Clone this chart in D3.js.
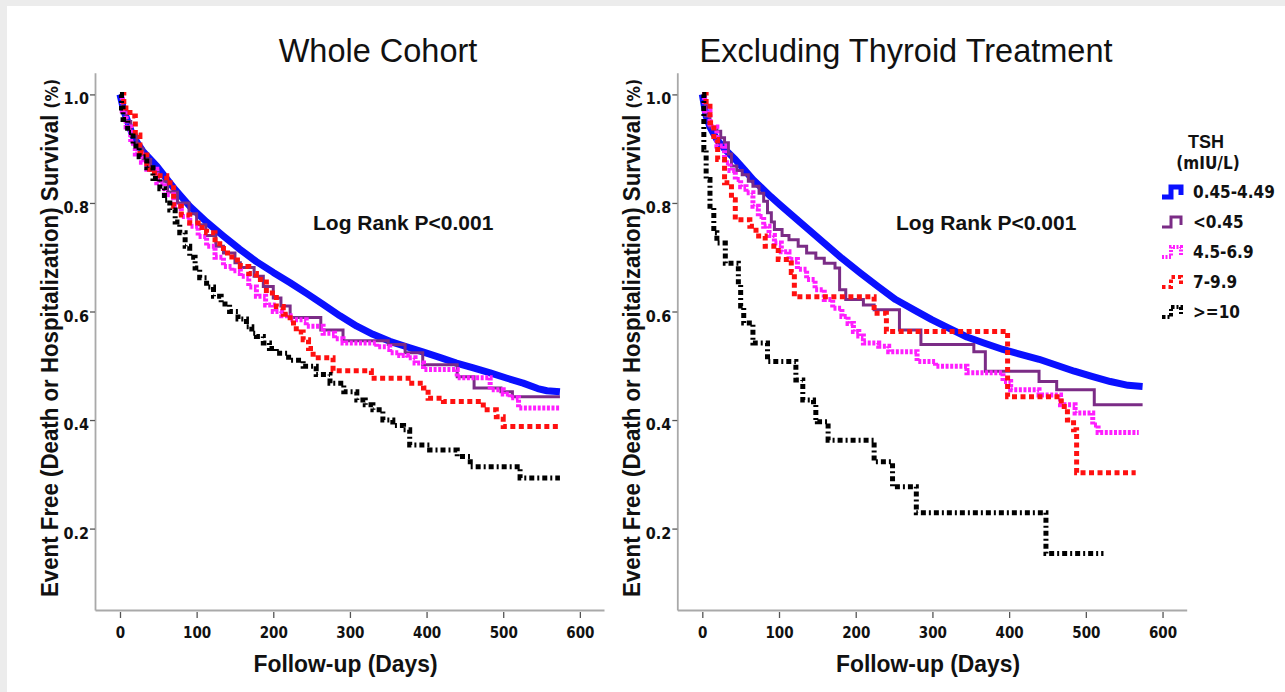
<!DOCTYPE html>
<html><head><meta charset="utf-8">
<script src="https://cdn.jsdelivr.net/npm/d3@7"></script>
<style>body{margin:0;background:#fff;} svg{display:block}</style>
</head><body>
<svg id="c" width="1285" height="692"></svg>
<script>
// ---------- data ----------
const groups = ["0.45-4.49", "<0.45", "4.5-6.9", "7-9.9", ">=10"];
const panelTitles = ["Whole Cohort", "Excluding Thyroid Treatment"];
const yTicks = [0.2, 0.4, 0.6, 0.8, 1.0];
const xTicks = [0, 100, 200, 300, 400, 500, 600];
const pText = "Log Rank P<0.001";
const yTitle = "Event Free (Death or Hospitalization) Survival ";
const yTitleUnit = "(%)";
const xTitle = "Follow-up (Days)";
const legendTitle = ["TSH", "(mIU/L)"];

// Whole cohort: [day, survival]
const wholeNormal = [[0,1.0],[5,0.97],[17,0.923],[30,0.895],[48,0.868],[70,0.828],[91,0.794],[113,0.765],[135,0.739],[156,0.715],[178,0.692],[200,0.672],[222,0.653],[244,0.633],[265,0.613],[287,0.592],[309,0.573],[330,0.558],[352,0.545],[374,0.535],[396,0.525],[418,0.515],[439,0.505],[461,0.496],[483,0.487],[505,0.477],[526,0.468],[545,0.458],[557,0.454],[574,0.452]];
const wholeLow = [[0,1.0],[3,0.975],[8,0.95],[14,0.925],[22,0.9],[30,0.88],[40,0.86],[50,0.84],[62,0.82],[75,0.80],[90,0.78],[100,0.76],[112,0.74],[125,0.72],[135,0.708],[150,0.69],[157,0.681],[175,0.665],[187,0.646],[200,0.625],[210,0.61],[222,0.589],[262,0.566],[291,0.546],[350,0.539],[372,0.524],[395,0.502],[440,0.48],[462,0.459],[497,0.452],[512,0.443],[574,0.443]];
const wholeMild = [[0,1.0],[3,0.97],[8,0.94],[14,0.91],[20,0.89],[28,0.875],[35,0.862],[48,0.837],[58,0.815],[70,0.794],[80,0.775],[91,0.757],[102,0.738],[113,0.72],[124,0.70],[135,0.683],[146,0.675],[157,0.665],[168,0.645],[178,0.628],[190,0.612],[200,0.60],[211,0.592],[222,0.585],[243,0.573],[265,0.56],[280,0.55],[291,0.542],[335,0.535],[352,0.524],[365,0.519],[375,0.515],[385,0.505],[396,0.493],[440,0.478],[483,0.456],[500,0.448],[509,0.441],[520,0.422],[574,0.422]];
const wholeMod = [[0,1.0],[5,0.975],[13,0.96],[20,0.925],[26,0.893],[35,0.862],[45,0.85],[61,0.837],[70,0.794],[80,0.778],[91,0.763],[102,0.755],[113,0.745],[124,0.725],[135,0.708],[146,0.695],[157,0.683],[168,0.67],[178,0.659],[191,0.634],[204,0.609],[213,0.595],[222,0.579],[230,0.562],[239,0.548],[246,0.532],[252,0.515],[278,0.491],[328,0.477],[376,0.468],[396,0.459],[402,0.44],[422,0.434],[474,0.419],[491,0.406],[500,0.388],[574,0.388]];
const wholeHigh = [[0,1.0],[2,0.975],[4,0.954],[10,0.93],[17,0.905],[25,0.885],[35,0.865],[43,0.845],[52,0.826],[58,0.805],[65,0.787],[72,0.765],[78,0.745],[85,0.72],[91,0.700],[98,0.68],[104,0.662],[113,0.645],[122,0.628],[132,0.614],[143,0.600],[154,0.586],[165,0.572],[172,0.56],[178,0.554],[187,0.542],[195,0.532],[204,0.523],[220,0.51],[239,0.499],[256,0.484],[274,0.468],[292,0.452],[309,0.437],[320,0.428],[330,0.419],[343,0.40],[356,0.39],[370,0.382],[378,0.354],[404,0.345],[440,0.333],[457,0.314],[522,0.293],[574,0.293]];

// Excluding thyroid treatment
const exclNormal = [[0,1.0],[5,0.96],[10,0.94],[19,0.917],[30,0.898],[43,0.88],[55,0.861],[66,0.843],[78,0.827],[89,0.812],[101,0.797],[113,0.782],[136,0.754],[159,0.726],[182,0.698],[206,0.671],[229,0.646],[252,0.622],[276,0.603],[299,0.585],[322,0.569],[345,0.553],[369,0.541],[392,0.530],[415,0.521],[439,0.512],[462,0.501],[485,0.49],[509,0.48],[532,0.471],[555,0.464],[574,0.462]];
const exclLow = [[0,1.0],[4,0.96],[10,0.94],[19,0.932],[24,0.92],[29,0.911],[34,0.89],[38,0.868],[45,0.86],[52,0.852],[60,0.84],[66,0.831],[74,0.818],[80,0.803],[85,0.782],[90,0.765],[94,0.751],[104,0.74],[113,0.732],[125,0.72],[136,0.708],[148,0.698],[159,0.689],[173,0.68],[179,0.64],[187,0.622],[210,0.612],[224,0.603],[257,0.566],[285,0.539],[354,0.526],[369,0.49],[439,0.471],[462,0.456],[511,0.428],[574,0.428]];
const exclMild = [[0,1.0],[3,0.97],[10,0.94],[19,0.905],[29,0.874],[36,0.86],[43,0.843],[50,0.83],[57,0.819],[66,0.794],[73,0.775],[80,0.757],[87,0.74],[94,0.726],[103,0.71],[113,0.696],[124,0.678],[136,0.659],[147,0.64],[159,0.622],[170,0.606],[182,0.591],[190,0.578],[197,0.563],[204,0.555],[210,0.542],[230,0.536],[243,0.526],[280,0.508],[304,0.499],[345,0.487],[392,0.471],[402,0.456],[439,0.446],[467,0.428],[486,0.413],[509,0.391],[516,0.377],[569,0.377]];
const exclMod = [[0,1.0],[5,0.978],[10,0.948],[15,0.917],[20,0.88],[29,0.837],[38,0.806],[43,0.769],[62,0.757],[70,0.739],[82,0.72],[99,0.696],[116,0.672],[120,0.627],[224,0.597],[240,0.563],[398,0.443],[468,0.425],[476,0.40],[484,0.382],[488,0.303],[565,0.303]];
const exclHigh = [[0,1.0],[2,0.898],[5,0.843],[10,0.794],[15,0.745],[19,0.726],[30,0.689],[47,0.65],[50,0.61],[54,0.579],[66,0.542],[85,0.508],[122,0.474],[131,0.437],[145,0.428],[148,0.40],[150,0.397],[164,0.363],[224,0.323],[248,0.277],[279,0.229],[448,0.154],[523,0.154]];

const panelSeries = [
  [wholeNormal, wholeLow, wholeMild, wholeMod, wholeHigh],
  [exclNormal, exclLow, exclMild, exclMod, exclHigh]
];

// ---------- styles ----------
const styles = [
  {color:"#0a10ff", width:7, dash:null, curve:d3.curveLinear},
  {color:"#7b2c86", width:3, dash:null, curve:d3.curveStepAfter},
  {color:"#ff1eff", width:5, dash:"3,1.6", curve:d3.curveStepAfter},
  {color:"#ff1010", width:5, dash:"5,3.5", curve:d3.curveStepAfter},
  {color:"#000000", width:5, dash:"5,3,2,3", curve:d3.curveStepAfter}
];
const boldFont = "'Liberation Sans', Arial, sans-serif";
const tickFont = "'DejaVu Sans Condensed', 'DejaVu Sans', sans-serif";

const svg = d3.select("#c");
svg.append("rect").attr("width",1285).attr("height",692).attr("fill","#fff");
svg.append("rect").attr("x",0).attr("y",0).attr("width",1285).attr("height",6).attr("fill","#ececec");
svg.append("rect").attr("x",0).attr("y",0).attr("width",7).attr("height",692).attr("fill","#ececec");

const panels = [
  {x0:95, x1:604, titleX:378, labelX:58},
  {x0:677.3, x1:1186.7, titleX:906, labelX:640}
];
const yTop = 72.7, yBot = 610;

panels.forEach((p, pi) => {
  const x = d3.scaleLinear().domain([-32.6, 631.5]).range([p.x0, p.x1]);
  const y = d3.scaleLinear().domain([0.05, 1.04]).range([yBot, yTop]);
  const g = svg.append("g");

  // axes
  const ax = g.append("g").attr("transform", `translate(0,${yBot})`)
    .call(d3.axisBottom(x).tickValues(xTicks).tickSize(6).tickSizeOuter(0).tickFormat(d3.format("d")));
  const ay = g.append("g").attr("transform", `translate(${p.x0},0)`)
    .call(d3.axisLeft(y).tickValues(yTicks).tickSize(5).tickSizeOuter(0).tickFormat(d3.format(".1f")));
  [ax, ay].forEach(a => {
    a.select(".domain").attr("stroke", "#a9a9a9").attr("stroke-width", 1.8);
    a.selectAll(".tick line").attr("stroke", "#555").attr("stroke-width", 1.3);
    a.selectAll(".tick text").attr("fill","#111").attr("font-family", tickFont)
      .attr("font-weight","bold").attr("font-size", 15).attr("font-stretch","condensed");
  });
  ax.selectAll(".tick line").attr("y1", 2).attr("y2", 8);
  ax.selectAll(".tick text").attr("y", 27.5).attr("dy", 0);
  ay.selectAll(".tick text").attr("x", -6).attr("dy", 0).attr("y", 9.5).attr("font-size", 16);

  // curves
  panelSeries[pi].forEach((data, si) => {
    const st = styles[si];
    const line = d3.line().x(d => x(d[0])).y(d => y(d[1])).curve(st.curve);
    g.append("path").datum(data).attr("d", line)
      .attr("fill","none").attr("stroke", st.color).attr("stroke-width", st.width)
      .attr("stroke-dasharray", st.dash).attr("stroke-linejoin", si===0 ? "round" : "miter")
      .attr("stroke-linecap","butt");
  });

  // titles
  svg.append("text").attr("x", p.titleX).attr("y", 62).attr("text-anchor","middle")
    .attr("font-family", "Arial, 'Liberation Sans', sans-serif").attr("font-size", 32.5)
    .attr("fill","#111").text(panelTitles[pi]);
  svg.append("text").attr("x", pi===0 ? 313 : 896).attr("y", 230)
    .attr("font-family", boldFont).attr("font-weight","bold").attr("font-size", 21)
    .attr("fill","#111").text(pText);
  svg.append("text").attr("x", (p.x0+p.x1)/2 - 4).attr("y", 672).attr("text-anchor","middle")
    .attr("font-family", boldFont).attr("font-weight","bold").attr("font-size", 24)
    .attr("textLength", 184).attr("lengthAdjust","spacingAndGlyphs")
    .attr("fill","#111").text(xTitle);
  const yt = svg.append("text").attr("transform", `translate(${p.labelX},338) rotate(-90)`)
    .attr("text-anchor","middle").attr("font-family", boldFont).attr("font-weight","bold")
    .attr("font-size", 23.5).attr("textLength", 518).attr("lengthAdjust","spacingAndGlyphs")
    .attr("fill","#111");
  yt.append("tspan").text(yTitle);
  yt.append("tspan").attr("font-family", tickFont).attr("font-size", 18).text(yTitleUnit);
});

// legend
const lg = svg.append("g");
lg.append("text").attr("x", 1206).attr("y", 148).attr("text-anchor","middle")
  .attr("font-family", boldFont).attr("font-weight","bold").attr("font-size", 18).attr("fill","#111").text(legendTitle[0]);
lg.append("text").attr("x", 1208).attr("y", 169).attr("text-anchor","middle")
  .attr("font-family", tickFont).attr("font-weight","bold").attr("font-size", 17).attr("fill","#111").text(legendTitle[1]);
const legY = d3.scalePoint().domain(groups).range([192, 312]);
groups.forEach((gname, i) => {
  const st = styles[i];
  const yy = legY(gname);
  const sw = lg.append("g").attr("transform", `translate(1162,${yy})`);
  sw.append("path").attr("d", "M0,5H9V-5H19V3")
    .attr("fill","none").attr("stroke", st.color)
    .attr("stroke-width", i===0 ? 5 : (i===1 ? 3 : 4))
    .attr("stroke-dasharray", st.dash ? (i===2 ? "2,1.5" : (i===3 ? "3.5,3" : "3.5,2,2,2")) : null);
  lg.append("text").attr("x", 1193).attr("y", yy + 6)
    .attr("font-family", tickFont).attr("font-weight","bold").attr("font-size", 17)
    .attr("font-stretch","condensed").attr("fill","#111").text(gname);
});
</script>
</body></html>
